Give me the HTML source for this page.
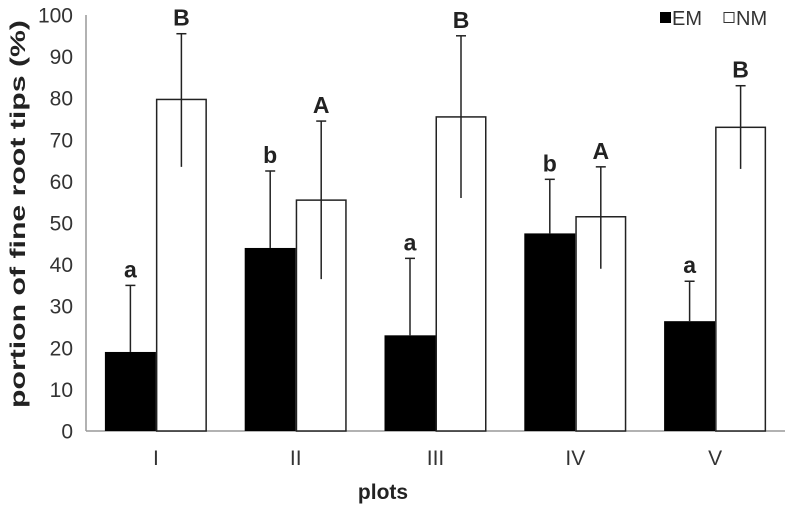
<!DOCTYPE html>
<html><head><meta charset="utf-8"><style>
html,body{margin:0;padding:0;background:#fff;}
svg text{font-family:"Liberation Sans",Arial,sans-serif;}
</style></head><body>
<svg id="chart" width="788" height="512" xmlns="http://www.w3.org/2000/svg">
</svg>
<script>
const categories=["I","II","III","IV","V"];
const emValues=[19,44,23,47.5,26.4];
const emErrHigh=[35,62.5,41.5,60.5,36];
const emLetters=["a","b","a","b","a"];
const nmValues=[79.7,55.5,75.5,51.5,73];
const nmErrLow=[63.5,36.5,56,39,63];
const nmErrHigh=[95.5,74.5,95,63.5,83];
const nmLetters=["B","A","B","A","B"];
const yTicks=[0,10,20,30,40,50,60,70,80,90,100];

const svg=document.getElementById('chart');
const NS="http://www.w3.org/2000/svg";
const x0=86,x1=785,yBase=431,yTop=15;
const y=v=>yBase-(v/100)*(yBase-yTop);
const band=(x1-x0)/categories.length;
const cx=i=>x0+band*(i+0.5);
const bw=51;
function mk(tag,attrs){const e=document.createElementNS(NS,tag);for(const k in attrs)e.setAttribute(k,attrs[k]);svg.appendChild(e);return e;}

let ax=mk('line',{x1:x0,y1:yTop,x2:x0,y2:yBase,stroke:'#999','stroke-width':1.5});


ax=mk('line',{x1:x0,y1:yBase,x2:x1,y2:yBase,stroke:'#999','stroke-width':1.5});



yTicks.forEach(t=>{
  const e=mk('text',{x:73,y:y(t)+7.5,'text-anchor':'end','font-size':21,fill:'#333'});
  e.textContent=t;
  
  
});

function errBar(xc,lo,hi,name){
  const g=[mk('line',{x1:xc,y1:y(lo),x2:xc,y2:y(hi),stroke:'#222','stroke-width':1.5}),
  mk('line',{x1:xc-5,y1:y(hi),x2:xc+5,y2:y(hi),stroke:'#222','stroke-width':1.5})];
  g.forEach(e=>{
  });
  return g;
}

categories.forEach((c,i)=>{
  const xc=cx(i);
  let r=mk('rect',{x:xc-bw,y:y(emValues[i]),width:bw,height:yBase-y(emValues[i]),fill:'#000'});
  
  
  errBar(xc-bw/2,emValues[i],emErrHigh[i],'error-bar-em');
  let t=mk('text',{x:xc-bw/2,y:y(emErrHigh[i])-8,'text-anchor':'middle','font-size':23,'font-weight':'bold',fill:'#222'});
  t.textContent=emLetters[i];
  
  
  r=mk('rect',{x:xc+0.75,y:y(nmValues[i]),width:bw-1.5,height:yBase-y(nmValues[i]),fill:'#fff',stroke:'#222','stroke-width':1.5});
  
  
  errBar(xc+bw/2,nmErrLow[i],nmErrHigh[i],'error-bar-nm');
  t=mk('text',{x:xc+bw/2,y:y(nmErrHigh[i])-8,'text-anchor':'middle','font-size':23,'font-weight':'bold',fill:'#222'});
  t.textContent=nmLetters[i];
  
  
  t=mk('text',{x:xc,y:465,'text-anchor':'middle','font-size':21,fill:'#333'});
  t.textContent=c;
  
  
});

let e=mk('text',{x:383,y:499,'text-anchor':'middle','font-size':21,'font-weight':'bold',fill:'#222'});
e.textContent='plots';


e=mk('text',{x:0,y:0,transform:'translate(25,214) rotate(-90)','text-anchor':'middle','font-size':21,'font-weight':'bold',fill:'#222',textLength:388,lengthAdjust:'spacingAndGlyphs'});
e.textContent='portion of fine root tips (%)';



e=mk('rect',{x:660,y:12,width:11,height:11,fill:'#000'});


e=mk('text',{x:672,y:25,'font-size':20,fill:'#333'});
e.textContent='EM';


e=mk('rect',{x:724,y:12.5,width:10,height:10,fill:'#fff',stroke:'#333','stroke-width':1});


e=mk('text',{x:736,y:25,'font-size':20,fill:'#333'});
e.textContent='NM';


</script>
</body></html>
